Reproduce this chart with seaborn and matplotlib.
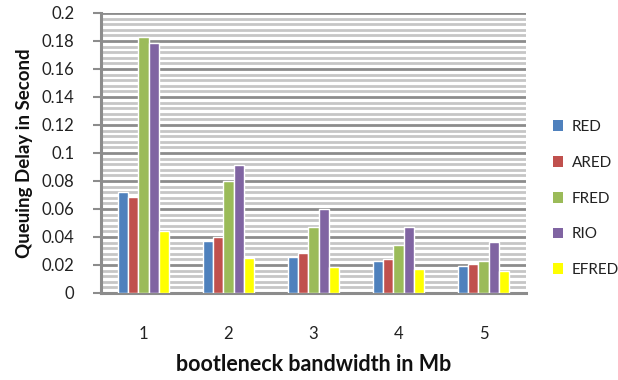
import matplotlib
matplotlib.use("Agg")
import matplotlib.pyplot as plt
import numpy as np
import pandas as pd
import seaborn as sns
from matplotlib.patches import Patch

bandwidth = ["1", "2", "3", "4", "5"]
methods = ["RED", "ARED", "FRED", "RIO", "EFRED"]
red = [0.0724, 0.0374, 0.0259, 0.0231, 0.0195]
ared = [0.0684, 0.0398, 0.0286, 0.0241, 0.0205]
fred = [0.1826, 0.0800, 0.0471, 0.0340, 0.0231]
rio = [0.1783, 0.0914, 0.0600, 0.0469, 0.0362]
efred = [0.0445, 0.0252, 0.0186, 0.0169, 0.0157]
colors = ["#4F81BD", "#C0504D", "#9BBB59", "#8064A2", "#FFFF00"]

series = dict(zip(methods, [red, ared, fred, rio, efred]))
df = pd.DataFrame(
    [(b, m, v) for m in methods for b, v in zip(bandwidth, series[m])],
    columns=["bandwidth", "method", "delay"],
)

sns.set_theme(style="white")
plt.rcParams["font.family"] = ["Lato", "DejaVu Sans"]

fig = plt.figure(figsize=(6.18, 3.8), dpi=100)
ax = fig.add_axes([0.1634, 0.229, 0.851 - 0.1634, 0.9658 - 0.229])

sns.barplot(
    data=df, x="bandwidth", y="delay", hue="method", order=bandwidth,
    hue_order=methods, palette=dict(zip(methods, colors)), width=0.61,
    saturation=1, gap=0, legend=False, ax=ax, zorder=3,
)

ax.set_ylim(0, 0.2)
ax.set_xlim(-0.5, 4.5)
ax.set_yticks(np.arange(0, 0.2001, 0.02))
ax.set_yticklabels(["0", "0.02", "0.04", "0.06", "0.08", "0.1", "0.12",
                    "0.14", "0.16", "0.18", "0.2"])
ax.set_yticks(np.arange(0, 0.2001, 0.004), minor=True)

# striped background: light minor lines with darker major lines
ax.grid(which="minor", axis="y", color="#c6c6c6", linewidth=2.0, zorder=0)
ax.grid(which="major", axis="y", color="#8c8c8c", linewidth=2.0, zorder=1)
ax.set_axisbelow(True)

for side in ["top", "right"]:
    ax.spines[side].set_visible(False)
for side in ["left", "bottom"]:
    ax.spines[side].set_color("#8c8c8c")
    ax.spines[side].set_linewidth(2.2)

ax.tick_params(axis="y", which="major", direction="out", length=6, width=1.5,
               color="#8c8c8c", labelsize=12, labelcolor="#222222", pad=13, left=True)
ax.tick_params(axis="y", which="minor", length=0)
ax.tick_params(axis="x", length=0, labelsize=12, labelcolor="#222222", pad=24)

ax.set_xlabel("bootleneck bandwidth in Mb", fontsize=15.5, fontweight="bold",
              color="#111111", va="center")
ax.xaxis.set_label_coords(0.5, -0.257)
ax.set_ylabel("Queuing Delay in Second", fontsize=13.5, fontweight="bold",
              color="#111111", va="center")
ax.yaxis.set_label_coords(-0.18, 0.5)

handles = [Patch(facecolor=c, edgecolor="none") for c in colors]
fig.legend(handles, methods, loc="upper left", bbox_to_anchor=(0.872, 0.72),
           frameon=False, fontsize=11, handlelength=0.7, handleheight=0.7,
           handletextpad=0.55, labelspacing=1.42, labelcolor="#222222")

fig.savefig("out.png", dpi=100)
